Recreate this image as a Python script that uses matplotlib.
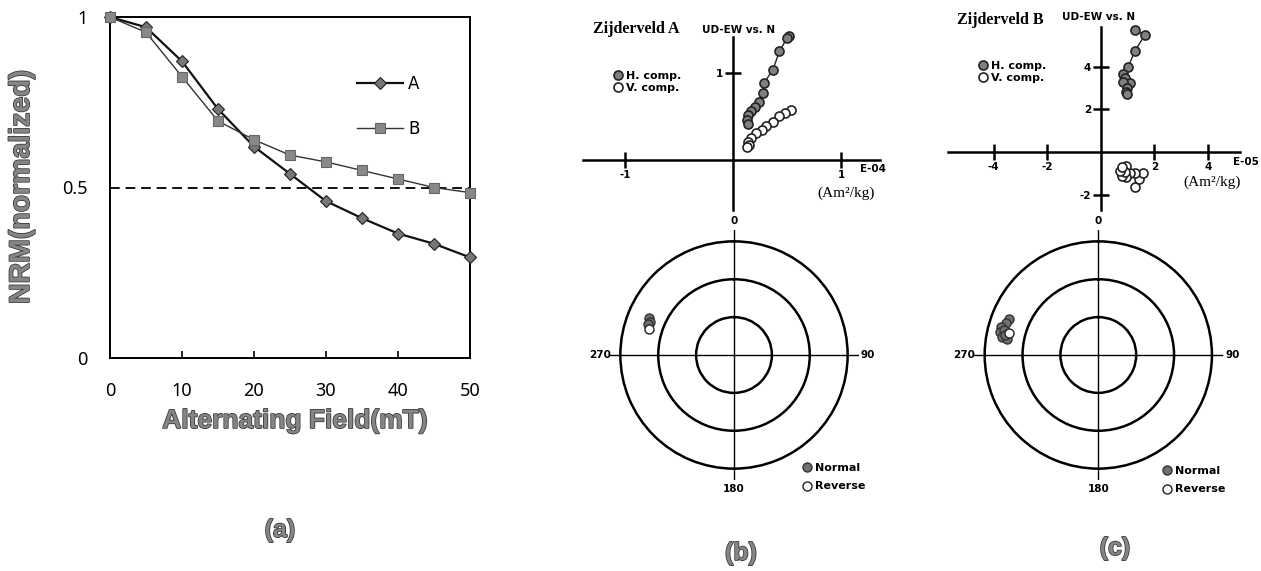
import numpy as np
import matplotlib
matplotlib.use('Agg')
import matplotlib.pyplot as plt
import matplotlib.patheffects as pe
from matplotlib.lines import Line2D

W, H = 1261, 571

# (a) AF demagnetization curves
af_field = [0, 5, 10, 15, 20, 25, 30, 35, 40, 45, 50]
nrm_a = [1.0, 0.97, 0.87, 0.73, 0.62, 0.54, 0.46, 0.41, 0.365, 0.335, 0.295]
nrm_b = [1.0, 0.955, 0.825, 0.695, 0.64, 0.595, 0.575, 0.55, 0.525, 0.50, 0.485]

# (b) Zijderveld A  (x E-04 Am2/kg)
za_h_x = [0.52, 0.50, 0.43, 0.37, 0.29, 0.28, 0.24, 0.20, 0.17, 0.14, 0.13, 0.14]
za_h_y = [1.43, 1.40, 1.25, 1.04, 0.89, 0.77, 0.67, 0.61, 0.56, 0.52, 0.46, 0.41]
za_v_x = [0.54, 0.48, 0.43, 0.37, 0.31, 0.27, 0.21, 0.17, 0.14, 0.15, 0.13]
za_v_y = [0.57, 0.54, 0.50, 0.44, 0.39, 0.34, 0.31, 0.25, 0.21, 0.17, 0.15]

# (c) Zijderveld B  (x E-05 Am2/kg)
zb_h_x = [1.28, 1.65, 1.28, 1.03, 0.84, 0.91, 1.09, 0.82, 0.99, 0.94, 0.97]
zb_h_y = [5.71, 5.48, 4.75, 4.00, 3.66, 3.46, 3.22, 3.30, 2.99, 2.83, 2.72]
zb_v_x = [1.28, 1.44, 1.57, 1.28, 1.09, 0.94, 0.78, 0.94, 0.91, 0.72, 0.78]
zb_v_y = [-1.61, -1.26, -0.98, -0.98, -0.98, -1.14, -1.11, -0.62, -0.91, -0.86, -0.67]

# stereonet directions (declination, inclination in deg)
sa_norm_dec = [293.5, 291.5, 289.8]
sa_norm_inc = [16.8, 18.9, 17.7]
sa_rev_dec = [287.0]
sa_rev_inc = [-19.8]
sb_norm_dec = [291.7, 288.9, 285.9, 283.0, 280.5, 279.8, 284.7, 282.0]
sb_norm_inc = [13.8, 12.9, 9.9, 10.2, 12.6, 16.5, 12.9, 14.5]
sb_rev_dec = [283.6]
sb_rev_inc = [-17.4]


def px_rect(x0, y0, x1, y1):
    return [x0 / W, 1 - y1 / H, (x1 - x0) / W, (y1 - y0) / H]


def ftext(x, y, s, **kw):
    return fig.text(x / W, 1 - y / H, s, **kw)


shadow = [pe.withStroke(linewidth=1.1, foreground='#333333')]
big = dict(fontweight='bold', color='#858585', family='Liberation Sans',
           path_effects=shadow)
chic = dict(fontsize=7.5, fontweight='bold', family='DejaVu Sans')

fig = plt.figure(figsize=(W / 100, H / 100), dpi=100)

######################################################
# (a)
ax = fig.add_axes(px_rect(110, 17, 470, 358))
ax.plot(af_field, nrm_a, '-', marker='D', color='#111111', lw=1.6, ms=6.5,
        mfc='#777777', mec='#222222', mew=0.8, label='A', clip_on=False, zorder=3)
ax.plot(af_field, nrm_b, '-', marker='s', color='#333333', lw=1.0, ms=7,
        mfc='#888888', mec='#666666', mew=0.8, label='B', clip_on=False, zorder=3)
ax.axhline(0.5, ls=(0, (5, 3)), color='#111111', lw=1.4)
ax.set_xlim(0, 50)
ax.set_ylim(0, 1)
ax.set_xticks(range(0, 51, 10))
ax.set_yticks([0, 0.5, 1])
ax.set_yticklabels(['0', '0.5', '1'])
for s in ax.spines.values():
    s.set_linewidth(1.4)
ax.tick_params(axis='x', direction='in', length=5, width=1.2, pad=17, labelsize=13)
ax.tick_params(axis='y', length=0, pad=16, labelsize=13)
for t in ax.get_xticklabels() + ax.get_yticklabels():
    t.set_family('Noto Sans')
ax.legend(loc='upper left', bbox_to_anchor=(0.685, 0.83), frameon=False,
          fontsize=12, handlelength=2.8, handletextpad=0.3, labelspacing=1.6,
          borderpad=0, borderaxespad=0)

ftext(295, 421, 'Alternating Field(mT)', ha='center', va='center', fontsize=19, **big)
ftext(22, 187, 'NRM(normalized)', ha='center', va='center', rotation=90, fontsize=20.5, **big)
ftext(280, 530, '(a)', ha='center', va='center', fontsize=18, **big)


######################################################
# Zijderveld plots
def zijderveld(rect, xlim, ylim, xt, yt, hx, hy, vx, vy):
    z = fig.add_axes(px_rect(*rect))
    z.set_xlim(*xlim)
    z.set_ylim(*ylim)
    z.spines['left'].set_position('zero')
    z.spines['bottom'].set_position('zero')
    z.spines['top'].set_visible(False)
    z.spines['right'].set_visible(False)
    z.spines['left'].set_linewidth(1.8)
    z.spines['bottom'].set_linewidth(1.8)
    z.set_xticks(xt)
    z.set_yticks(yt)
    z.set_xticklabels([str(v) for v in xt])
    z.set_yticklabels([str(v) for v in yt])
    z.tick_params(direction='inout', length=12, width=1.8, pad=1)
    for t in z.get_xticklabels() + z.get_yticklabels():
        t.set_fontsize(7.5)
        t.set_fontweight('bold')
    z.plot(hx, hy, '-', color='#222222', lw=1.0, marker='o', ms=6.5,
           mfc='#808080', mec='#222222', mew=1.2, clip_on=False, zorder=3)
    z.plot(vx, vy, '-', color='#222222', lw=0.8, marker='o', ms=6.5,
           mfc='white', mec='#222222', mew=1.2, clip_on=False, zorder=3)
    z.patch.set_alpha(0)
    return z


zijderveld((583, 37, 880, 210), (-1.389, 1.361), (-0.575, 1.414), [-1, 1], [1],
           za_h_x, za_h_y, za_v_x, za_v_y)
zijderveld((948, 26.7, 1240, 210), (-5.70, 5.20), (-2.70, 5.87), [-4, -2, 2, 4], [-2, 2, 4],
           zb_h_x, zb_h_y, zb_v_x, zb_v_y)

h_proxy = Line2D([], [], ls='none', marker='o', ms=6.5, mfc='#808080', mec='#222222', mew=1.2)
v_proxy = Line2D([], [], ls='none', marker='o', ms=6.5, mfc='white', mec='#222222', mew=1.2)

for (tx, ty, lab, ux, uy, ex, ey, ename, mx, my, sx, sy) in [
        (593, 29, 'A', 702, 30, 860, 169, 'E-04', 612, 82, 817, 193),
        (957, 20, 'B', 1062, 17, 1233, 162, 'E-05', 977, 72, 1183, 182)]:
    ftext(tx, ty, 'Zijderveld ' + lab, ha='left', va='center', fontsize=11.5,
          fontweight='bold', family='Liberation Serif')
    ftext(ux, uy, 'UD-EW vs. N', ha='left', va='center', **chic)
    ftext(ex, ey, ename, ha='left', va='center', **chic)
    ftext(sx, sy, '(Am\u00b2/kg)', ha='left', va='center', fontsize=11, family='Liberation Serif')
    fig.legend([h_proxy, v_proxy], ['H. comp.', 'V. comp.'], loc='center left',
               bbox_to_anchor=(mx / W, 1 - my / H), frameon=False, prop=dict(size=8, weight='bold'),
               handlelength=1.0, handletextpad=0.25, labelspacing=0.2, borderpad=0, borderaxespad=0)


######################################################
# stereonets
def stereonet(cx, cy, ndec, ninc, rdec, rinc):
    R = 125
    s = fig.add_axes(px_rect(cx - R, cy - R, cx + R, cy + R), projection='polar')
    s.set_theta_zero_location('N')
    s.set_theta_direction(-1)
    s.set_rlim(0, 99)
    s.set_thetagrids([0, 90, 180, 270], labels=['0', '90', '180', '270'])
    s.set_rgrids([30, 60, 90], labels=['', '', ''])
    s.spines['polar'].set_visible(False)
    s.xaxis.grid(True, color='black', lw=1.0)
    s.yaxis.grid(True, color='black', lw=1.8)
    s.tick_params(axis='x', pad=-4)
    for t in s.get_xticklabels():
        t.set_fontsize(7.5)
        t.set_fontweight('bold')
    s.patch.set_alpha(0)
    s.plot(np.radians(ndec), 90 - np.abs(ninc), 'o', ms=6.5, mfc='#707070',
           mec='#333333', mew=1.0, zorder=3)
    s.plot(np.radians(rdec), 90 - np.abs(rinc), 'o', ms=6.5, mfc='white',
           mec='#222222', mew=1.0, zorder=3)
    return s


stereonet(734, 355, sa_norm_dec, sa_norm_inc, sa_rev_dec, sa_rev_inc)
stereonet(1098.3, 355, sb_norm_dec, sb_norm_inc, sb_rev_dec, sb_rev_inc)

n_proxy = Line2D([], [], ls='none', marker='o', ms=6.5, mfc='#707070', mec='#333333', mew=1.0)
r_proxy = Line2D([], [], ls='none', marker='o', ms=6.5, mfc='white', mec='#222222', mew=1.0)
for mx, my in [(802, 477), (1162, 480)]:
    fig.legend([n_proxy, r_proxy], ['Normal', 'Reverse'], loc='center left',
               bbox_to_anchor=(mx / W, 1 - my / H), frameon=False, prop=dict(size=8, weight='bold'),
               handlelength=0.9, handletextpad=0.3, labelspacing=0.8, borderpad=0, borderaxespad=0)

ftext(741, 553, '(b)', ha='center', va='center', fontsize=18, **big)
ftext(1115, 548, '(c)', ha='center', va='center', fontsize=18, **big)

fig.savefig('out.png', dpi=100)
